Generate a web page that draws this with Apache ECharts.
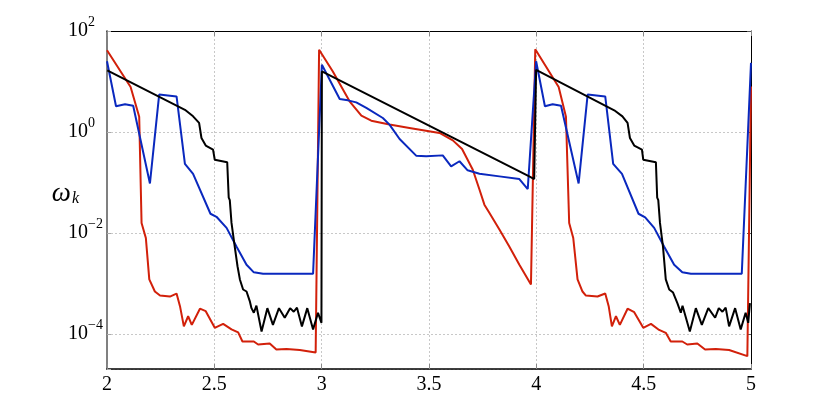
<!DOCTYPE html>
<html><head><meta charset="utf-8">
<script src="https://cdn.jsdelivr.net/npm/echarts@6/dist/echarts.min.js"></script>
<style>html,body{margin:0;padding:0;background:#fff}#c{width:830px;height:415px}</style>
</head><body><div id="c"></div>
<script>
// ---- data (x = time-like coordinate, y = omega_k values) ----
const xRange = [2, 5];
const yRange = [2.02e-5, 100];

const redX = [2.000, 2.110, 2.150, 2.161, 2.181, 2.197, 2.223, 2.247, 2.293, 2.324, 2.340, 2.358, 2.378, 2.395, 2.433, 2.460, 2.502, 2.541, 2.580, 2.611, 2.631, 2.684, 2.704, 2.758, 2.789, 2.836, 2.898, 2.972,
  2.988, 3.052, 3.130, 3.185, 3.231, 3.316, 3.409, 3.549, 3.611, 3.654, 3.704, 3.735, 3.758, 3.781, 3.828, 3.874, 3.921, 3.975,
  3.995, 4.104, 4.138, 4.153, 4.172, 4.192, 4.215, 4.231, 4.285, 4.321, 4.337, 4.352, 4.371, 4.389, 4.425, 4.456, 4.498, 4.534, 4.572, 4.603, 4.626, 4.680, 4.703, 4.750, 4.786, 4.836, 4.898, 4.983, 5.000];
const redY = [41.7, 7.76, 2.00, 0.0158, 0.00794, 0.00120, 6.92e-4, 5.75e-4, 5.50e-4, 6.31e-4, 3.55e-4, 1.41e-4, 2.24e-4, 1.51e-4, 3.16e-4, 2.82e-4, 1.32e-4, 1.58e-4, 1.23e-4, 1.07e-4, 7.08e-5, 7.08e-5, 6.17e-5, 6.46e-5, 4.90e-5, 5.01e-5, 4.79e-5, 4.27e-5,
  42.7, 15.8, 4.04, 2.10, 1.67, 1.40, 1.20, 0.955, 0.682, 0.460, 0.179, 0.0724, 0.0363, 0.0251, 0.0117, 0.00537, 0.00234, 9.55e-4,
  43.7, 7.76, 2.00, 0.0158, 0.00794, 0.00120, 6.92e-4, 5.75e-4, 5.50e-4, 6.31e-4, 3.55e-4, 1.41e-4, 2.24e-4, 1.51e-4, 3.16e-4, 2.69e-4, 1.32e-4, 1.58e-4, 1.20e-4, 1.05e-4, 7.08e-5, 7.08e-5, 6.17e-5, 6.46e-5, 4.90e-5, 5.01e-5, 4.79e-5, 3.63e-5, 7.94];

const blueX = [2.000, 2.042, 2.084, 2.122, 2.200, 2.243, 2.324, 2.363, 2.401, 2.482, 2.510, 2.557, 2.603, 2.650, 2.684, 2.727, 2.960,
  3.001, 3.084, 3.122, 3.161, 3.208, 3.285, 3.316, 3.363, 3.440, 3.487, 3.564, 3.603, 3.642, 3.680, 3.735, 3.828, 3.921, 3.960,
  3.999, 4.040, 4.076, 4.115, 4.197, 4.239, 4.321, 4.358, 4.399, 4.476, 4.507, 4.549, 4.595, 4.642, 4.680, 4.720, 4.957, 5.000];
const blueY = [25.1, 3.24, 3.55, 3.31, 0.0955, 5.50, 5.07, 0.234, 0.148, 0.0240, 0.0209, 0.0126, 0.00537, 0.00234, 0.00166, 0.00155, 0.00155,
  21.4, 4.50, 4.23, 3.86, 2.99, 1.89, 1.40, 0.726, 0.340, 0.329, 0.344, 0.209, 0.263, 0.174, 0.149, 0.132, 0.117, 0.0741,
  25.1, 3.24, 3.55, 3.31, 0.0955, 5.50, 5.07, 0.234, 0.148, 0.0240, 0.0204, 0.0126, 0.00537, 0.00234, 0.00166, 0.00155, 0.00155, 23.4];

const blackX = [2.001, 2.363, 2.401, 2.429, 2.440, 2.460, 2.494, 2.502, 2.560, 2.567, 2.572, 2.580, 2.595, 2.608, 2.619, 2.634, 2.650, 2.665, 2.673, 2.684, 2.696, 2.720, 2.747, 2.773, 2.801, 2.828, 2.853, 2.870, 2.885, 2.908, 2.933, 2.960, 2.983, 2.999,
  3.001, 3.967, 3.990,
  3.999, 4.363, 4.401, 4.425, 4.436, 4.456, 4.492, 4.498, 4.557, 4.563, 4.568, 4.576, 4.590, 4.603, 4.619, 4.637, 4.657, 4.673, 4.681, 4.715, 4.743, 4.771, 4.801, 4.833, 4.850, 4.867, 4.882, 4.898, 4.926, 4.952, 4.975, 4.987, 4.995];
const blackY = [16.6, 2.75, 2.04, 1.51, 0.759, 0.537, 0.447, 0.282, 0.251, 0.0501, 0.0447, 0.0158, 0.00537, 0.00219, 0.00120, 7.59e-4, 6.92e-4, 4.47e-4, 3.24e-4, 2.63e-4, 3.63e-4, 1.12e-4, 3.24e-4, 1.51e-4, 3.24e-4, 2.09e-4, 3.24e-4, 2.75e-4, 3.31e-4, 1.41e-4, 3.24e-4, 1.23e-4, 2.63e-4, 1.66e-4,
  15.8, 0.132, 0.117,
  17.0, 2.69, 2.04, 1.51, 0.759, 0.537, 0.447, 0.282, 0.251, 0.0501, 0.0447, 0.0158, 0.00537, 0.00120, 7.59e-4, 6.61e-4, 4.07e-4, 2.63e-4, 3.63e-4, 1.12e-4, 3.24e-4, 1.51e-4, 3.24e-4, 2.09e-4, 3.24e-4, 2.75e-4, 3.31e-4, 1.41e-4, 3.24e-4, 1.23e-4, 2.63e-4, 1.66e-4, 4.07e-4];

// ---- chart ----
const FONT = "'Liberation Serif', 'DejaVu Serif', serif";
const pairs = (xs, ys) => xs.map((x, i) => [x, ys[i]]);
const GRID = '#c8c8c8';

function yLabel(v) {
  const l = Math.log10(v);
  const e = Math.round(l);
  if (Math.abs(l - e) > 1e-6) return '';
  return '{b|10}{s|' + (e < 0 ? '\u2212' + (-e) : String(e)) + '}';
}

const chart = echarts.init(document.getElementById('c'), null, {renderer: 'canvas'});
chart.setOption({
  animation: false,
  backgroundColor: '#fff',
  grid: {left: 107, right: 79, top: 31, bottom: 46, containLabel: false},
  xAxis: [{
    type: 'value', min: xRange[0], max: xRange[1], interval: 0.5, position: 'bottom',
    axisLine: {onZero: false, lineStyle: {color: '#000', width: 1.5}},
    axisTick: {inside: true, length: 5, lineStyle: {color: '#888'}},
    axisLabel: {color: '#000', fontFamily: FONT, fontSize: 20, margin: 6, formatter: v => String(v)},
    splitLine: {show: true, lineStyle: {color: GRID, type: [2, 2], width: 1}}
  }, {
    type: 'value', min: xRange[0], max: xRange[1], interval: 0.5, position: 'top',
    axisLine: {onZero: false, lineStyle: {color: '#000', width: 1}},
    axisTick: {inside: true, length: 5, lineStyle: {color: '#888'}},
    axisLabel: {show: false}, splitLine: {show: false}
  }],
  yAxis: [{
    type: 'log', logBase: 100, min: yRange[0], max: yRange[1], position: 'left',
    name: '{w|ω}{k|k}', nameLocation: 'middle', nameRotate: 0, nameGap: 28, nameMoveOverlap: false,
    nameTextStyle: {padding: [0, 0, 12, 0], rich: {
      w: {fontFamily: FONT, fontStyle: 'italic', fontSize: 27, color: '#000'},
      k: {fontFamily: FONT, fontStyle: 'italic', fontSize: 16, color: '#000', padding: [10, 0, 0, 1]}
    }},
    axisLine: {onZero: false, lineStyle: {color: '#808080', width: 2}},
    axisTick: {inside: true, length: 4, lineStyle: {color: '#aaa'}},
    axisLabel: {align: 'left', margin: 39, formatter: yLabel, rich: {
      b: {fontFamily: FONT, fontSize: 20, color: '#000'},
      s: {fontFamily: FONT, fontSize: 14, color: '#000', padding: [0, 0, 18, 0]}
    }},
    splitLine: {show: true, lineStyle: {color: GRID, type: [2, 2], width: 1}}
  }, {
    type: 'log', logBase: 100, min: yRange[0], max: yRange[1], position: 'right',
    axisLine: {onZero: false, lineStyle: {color: '#000', width: 1}},
    axisTick: {inside: true, length: 4, lineStyle: {color: '#555'}},
    axisLabel: {show: false}, splitLine: {show: false}
  }],
  series: [
    {name: 'red', type: 'line', data: pairs(redX, redY), showSymbol: false, symbol: 'none',
     lineStyle: {color: '#d2200a', width: 2}, itemStyle: {color: '#d2200a'}, z: 2},
    {name: 'blue', type: 'line', data: pairs(blueX, blueY), showSymbol: false, symbol: 'none',
     lineStyle: {color: '#0a28be', width: 2}, itemStyle: {color: '#0a28be'}, z: 3},
    {name: 'black', type: 'line', data: pairs(blackX, blackY), showSymbol: false, symbol: 'none',
     lineStyle: {color: '#000', width: 2}, itemStyle: {color: '#000'}, z: 4}
  ]
});
</script>
</body></html>
